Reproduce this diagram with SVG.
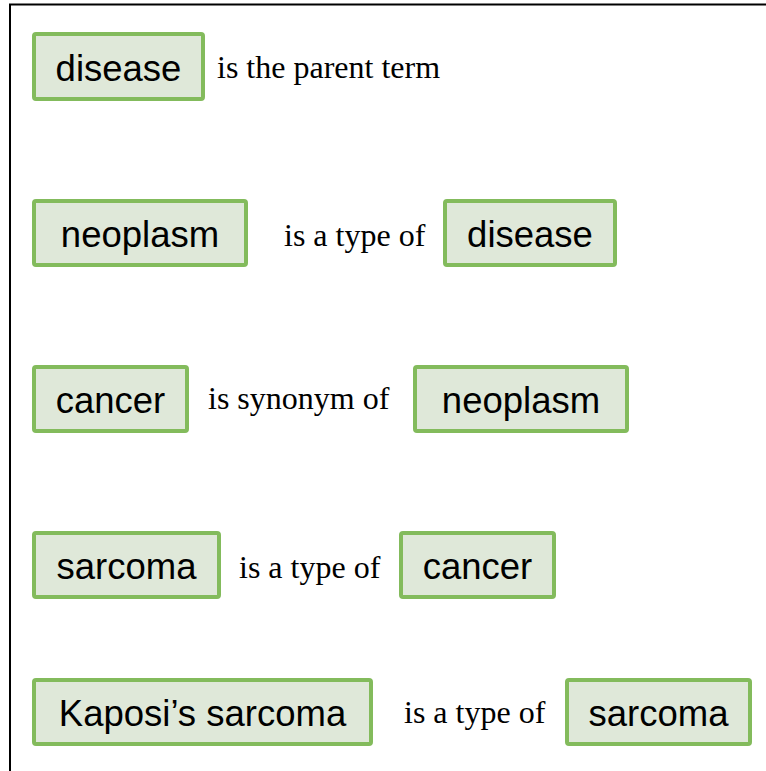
<svg xmlns="http://www.w3.org/2000/svg" width="766" height="771" viewBox="0 0 766 771">
<style>
.box{fill:#dfe8d9;stroke:#83bb5c;stroke-width:4}
.term{font-family:"Liberation Sans",Arial,sans-serif;font-size:36.5px;fill:#000;text-anchor:middle}
.rel{font-family:"Liberation Serif","Times New Roman",serif;font-size:32px;fill:#000}
</style>
<rect width="766" height="771" fill="#fff"/>
<path d="M10 771 V4.5 H766" fill="none" stroke="#000" stroke-width="2"/>
<g id="row1">
<g id="n-disease-1"><rect class="box" x="34" y="34" width="169" height="65" rx="2"/><text class="term" x="118.5" y="81">disease</text></g>
<text class="rel" x="217" y="78">is the parent term</text>
</g>
<g id="row2">
<g id="n-neoplasm-2"><rect class="box" x="34" y="201" width="212" height="64" rx="2"/><text class="term" x="140" y="247">neoplasm</text></g>
<text class="rel" x="284" y="246">is a type of</text>
<g id="n-disease-2"><rect class="box" x="445" y="201" width="170" height="64" rx="2"/><text class="term" x="530" y="247">disease</text></g>
</g>
<g id="row3">
<g id="n-cancer-3"><rect class="box" x="34" y="367" width="153" height="64" rx="2"/><text class="term" x="110.5" y="413">cancer</text></g>
<text class="rel" x="208" y="409">is synonym of</text>
<g id="n-neoplasm-3"><rect class="box" x="415" y="367" width="212" height="64" rx="2"/><text class="term" x="521" y="413">neoplasm</text></g>
</g>
<g id="row4">
<g id="n-sarcoma-4"><rect class="box" x="34" y="533" width="185" height="64" rx="2"/><text class="term" x="126.5" y="579">sarcoma</text></g>
<text class="rel" x="239" y="578">is a type of</text>
<g id="n-cancer-4"><rect class="box" x="401" y="533" width="153" height="64" rx="2"/><text class="term" x="477.5" y="579">cancer</text></g>
</g>
<g id="row5">
<g id="n-kaposi-5"><rect class="box" x="34" y="680" width="337" height="64" rx="2"/><text class="term" x="202.5" y="726">Kaposi’s sarcoma</text></g>
<text class="rel" x="404" y="723">is a type of</text>
<g id="n-sarcoma-5"><rect class="box" x="567" y="680" width="183" height="64" rx="2"/><text class="term" x="658.5" y="726">sarcoma</text></g>
</g>
<g id="connectors"/>
</svg>
